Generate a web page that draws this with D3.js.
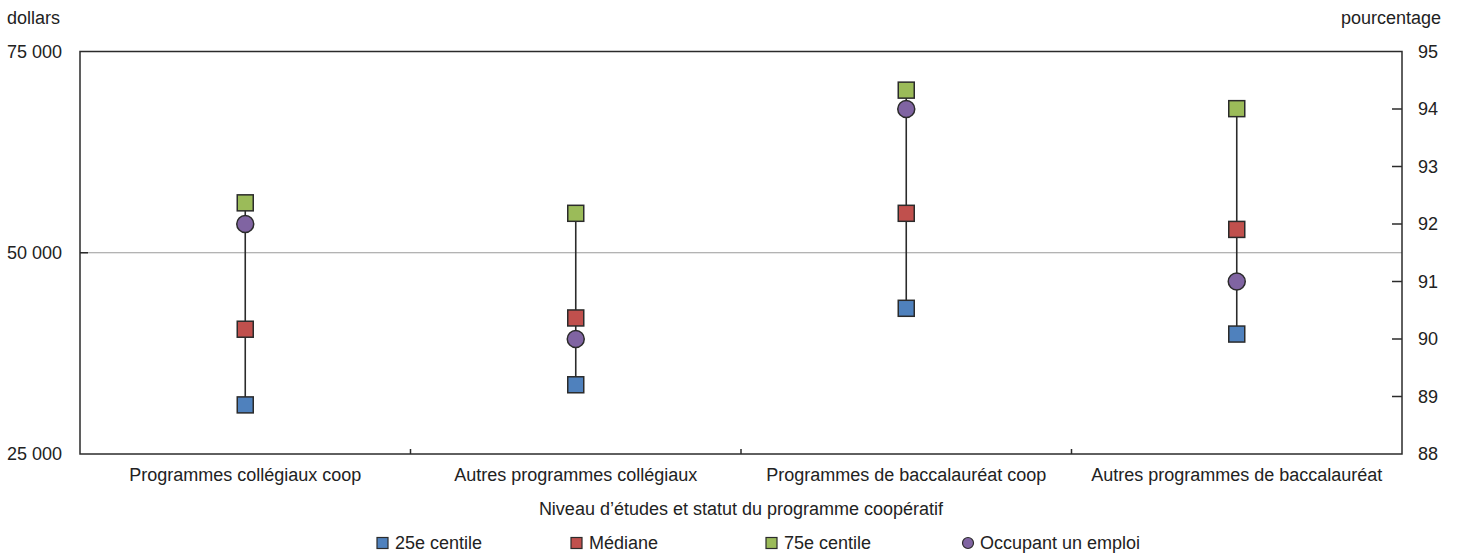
<!DOCTYPE html>
<html>
<head>
<meta charset="utf-8">
<script src="https://cdn.jsdelivr.net/npm/d3@7"></script>
<style>
  body { margin: 0; background: #fff; }
  svg text { font-family: "Liberation Sans Narrow", "Liberation Sans", Arial, sans-serif; fill: #222; font-size: 18px; }
</style>
</head>
<body>
<svg id="chart" width="1460" height="556"></svg>
<script>
// data
var categories = ["Programmes collégiaux coop", "Autres programmes collégiaux",
                  "Programmes de baccalauréat coop", "Autres programmes de baccalauréat"];
var p25 = [31100, 33600, 43100, 39900];
var median = [40500, 41900, 54900, 52900];
var p75 = [56200, 54900, 70200, 67900];
var employed = [92.0, 90.0, 94.0, 91.0];   // right axis, percentage
var dollarTicks = [25000, 50000, 75000];
var pctTicks = [88, 89, 90, 91, 92, 93, 94, 95];
var legendLabels = ["25e centile", "Médiane", "75e centile", "Occupant un emploi"];

var colors = {p25: "#4F81BD", median: "#C0504D", p75: "#9BBB59", emp: "#8064A2"};
var stroke = "#2b2b2b";

var svg = d3.select("#chart");
var plotL = 80, plotR = 1402, plotT = 51.5, plotB = 454;

var x = d3.scaleBand().domain(categories).range([plotL, plotR]);
var yL = d3.scaleLinear().domain([25000, 75000]).range([plotB, plotT]);
var yR = d3.scaleLinear().domain([88, 95]).range([plotB, plotT]);
var fmt = function(v){ return d3.format(",")(v).replace(/,/g, " "); };
var cx = function(c){ return x(c) + x.bandwidth() / 2; };

// gridline at 50 000
svg.append("line")
  .attr("x1", plotL).attr("x2", plotR)
  .attr("y1", yL(50000)).attr("y2", yL(50000))
  .attr("stroke", "#9a9a9a").attr("stroke-width", 1);

// left tick labels
svg.selectAll("text.yl").data(dollarTicks).enter().append("text")
  .attr("class", "yl")
  .attr("x", 7).attr("y", function(d){ return yL(d); })
  .attr("dy", "0.35em")
  .text(fmt);

svg.selectAll("line.ytl").data([50000]).enter().append("line")
  .attr("class", "ytl")
  .attr("x1", plotL).attr("x2", plotL + 8)
  .attr("y1", function(d){ return yL(d); }).attr("y2", function(d){ return yL(d); })
  .attr("stroke", stroke).attr("stroke-width", 1.5);

// right axis
svg.selectAll("text.yr").data(pctTicks).enter().append("text")
  .attr("class", "yr")
  .attr("x", 1418).attr("y", function(d){ return yR(d); })
  .attr("dy", "0.35em")
  .text(function(d){ return d; });

svg.selectAll("line.ytr").data(pctTicks.slice(1, -1)).enter().append("line")
  .attr("class", "ytr")
  .attr("x1", plotR - 10).attr("x2", plotR)
  .attr("y1", function(d){ return yR(d); }).attr("y2", function(d){ return yR(d); })
  .attr("stroke", stroke).attr("stroke-width", 1.5);

// category divider ticks
svg.selectAll("line.xt").data(categories.slice(1)).enter().append("line")
  .attr("class", "xt")
  .attr("x1", function(d){ return x(d); }).attr("x2", function(d){ return x(d); })
  .attr("y1", plotB).attr("y2", plotB - 5)
  .attr("stroke", stroke).attr("stroke-width", 1.5);

// frame
svg.append("rect")
  .attr("x", plotL).attr("y", plotT)
  .attr("width", plotR - plotL).attr("height", plotB - plotT)
  .attr("fill", "none").attr("stroke", stroke).attr("stroke-width", 1.5);

// axis titles
svg.append("text").attr("x", 7).attr("y", 24).text("dollars");
svg.append("text").attr("x", 1441).attr("y", 24).attr("text-anchor", "end").text("pourcentage");

// category labels
svg.selectAll("text.xl").data(categories).enter().append("text")
  .attr("class", "xl")
  .attr("x", cx)
  .attr("y", 481)
  .attr("text-anchor", "middle")
  .text(function(d){ return d; });

svg.append("text").attr("x", 741).attr("y", 515).attr("text-anchor", "middle")
  .text("Niveau d’études et statut du programme coopératif");

// range lines
var rows = categories.map(function(c, i){
  var ys = [yL(p25[i]), yL(median[i]), yL(p75[i]), yR(employed[i])];
  return {cat: c, y0: d3.min(ys), y1: d3.max(ys)};
});

svg.selectAll("line.range").data(rows).enter().append("line")
  .attr("class", "range")
  .attr("x1", function(d){ return cx(d.cat); })
  .attr("x2", function(d){ return cx(d.cat); })
  .attr("y1", function(d){ return d.y0; }).attr("y2", function(d){ return d.y1; })
  .attr("stroke", stroke).attr("stroke-width", 1.6);

var sq = 16;
function squares(vals, color, cls){
  svg.selectAll("rect." + cls).data(vals).enter().append("rect")
    .attr("class", cls)
    .attr("x", function(d, i){ return cx(categories[i]) - sq / 2; })
    .attr("y", function(d){ return yL(d) - sq / 2; })
    .attr("width", sq).attr("height", sq)
    .attr("fill", color).attr("stroke", stroke).attr("stroke-width", 1.5);
}
squares(p25, colors.p25, "p25");
squares(median, colors.median, "med");
squares(p75, colors.p75, "p75");

svg.selectAll("circle.emp").data(employed).enter().append("circle")
  .attr("class", "emp")
  .attr("cx", function(d, i){ return cx(categories[i]); })
  .attr("cy", function(d){ return yR(d); })
  .attr("r", 8.5)
  .attr("fill", colors.emp).attr("stroke", stroke).attr("stroke-width", 1.5);

// legend
var legendX = [377, 571, 766, 962];
var legendColors = [colors.p25, colors.median, colors.p75, colors.emp];
var lg = svg.selectAll("g.lg").data(legendLabels).enter().append("g")
  .attr("class", "lg")
  .attr("transform", function(d, i){ return "translate(" + legendX[i] + ",543)"; });

lg.each(function(d, i){
  var g = d3.select(this);
  if (i < 3) {
    g.append("rect").attr("x", 0).attr("y", -5.5).attr("width", 11).attr("height", 11)
      .attr("fill", legendColors[i]).attr("stroke", stroke).attr("stroke-width", 1.2);
  } else {
    g.append("circle").attr("cx", 6).attr("cy", 0).attr("r", 5.5)
      .attr("fill", legendColors[i]).attr("stroke", stroke).attr("stroke-width", 1.2);
  }
  g.append("text").attr("x", 18).attr("dy", "0.35em").text(d);
});
</script>
</body>
</html>
